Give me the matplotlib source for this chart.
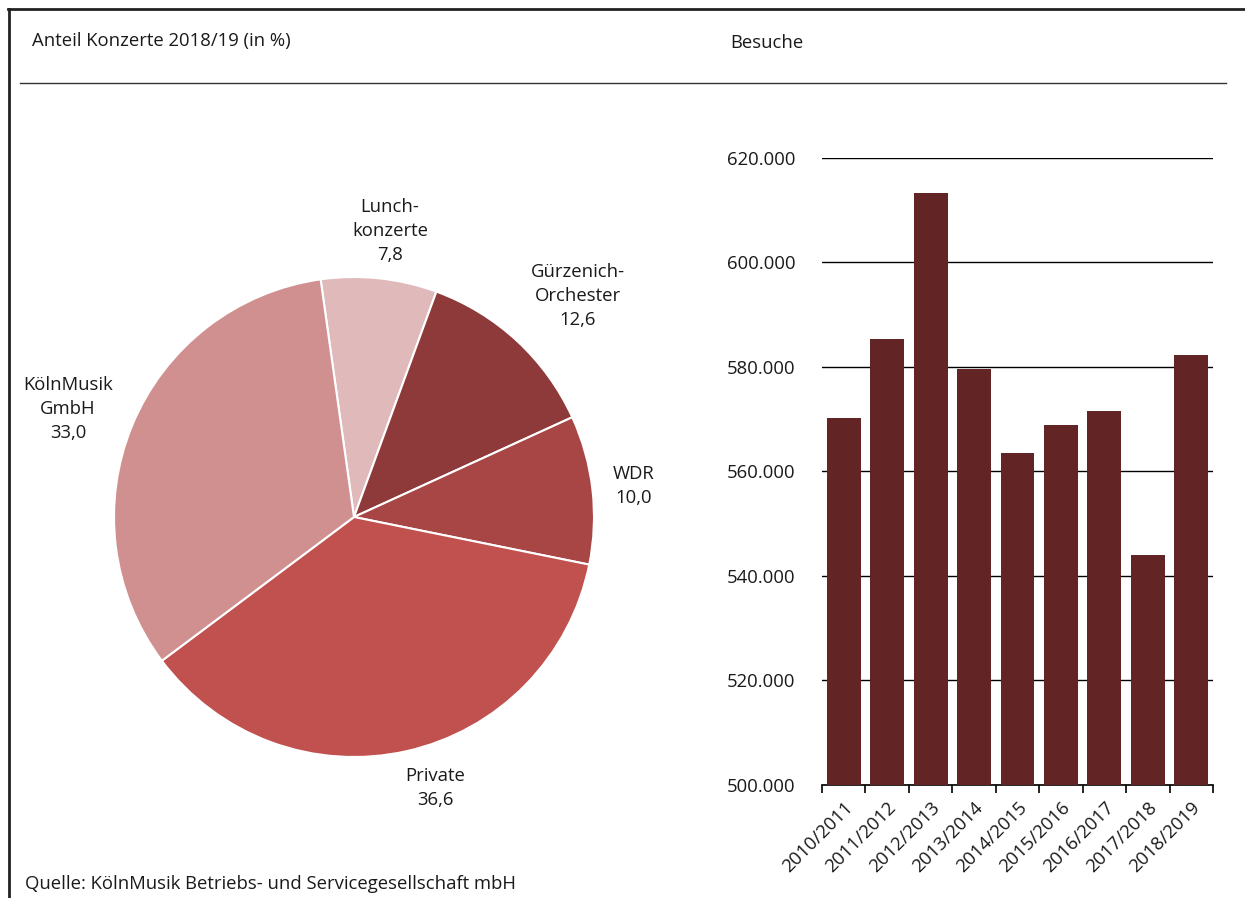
import matplotlib
matplotlib.use("Agg")
import matplotlib.pyplot as plt
from matplotlib.lines import Line2D
import numpy as np

# ---- data ----
pie_labels = ["Lunch-\nkonzerte", "Gürzenich-\nOrchester", "WDR", "Private", "KölnMusik\nGmbH"]
pie_values = [7.8, 12.6, 10.0, 36.6, 33.0]
pie_colors = ["#e0b9ba", "#8e3a3a", "#a84545", "#c0514f", "#d09090"]

seasons = ["2010/2011", "2011/2012", "2012/2013", "2013/2014", "2014/2015",
           "2015/2016", "2016/2017", "2017/2018", "2018/2019"]
visits = [570200, 585400, 613300, 579600, 563500, 568900, 571500, 544000, 582300]
y_ticks = [500000, 520000, 540000, 560000, 580000, 600000, 620000]

W, H = 1245, 898
plt.rcParams['font.family'] = ['Open Sans', 'DejaVu Sans']
FS = 13.3
TXT = "#1a1a1a"

fig = plt.figure(figsize=(W / 100, H / 100), dpi=100)

def fx(px):
    return px / W

def fy(py):
    return 1 - py / H

# frame lines
fig.add_artist(Line2D([fx(8), fx(1245)], [fy(9), fy(9)], color="#222222", lw=2.0))
fig.add_artist(Line2D([fx(9), fx(9)], [fy(9), fy(898)], color="#222222", lw=2.0))
fig.add_artist(Line2D([fx(20), fx(1226)], [fy(83), fy(83)], color="#333333", lw=1.0))

fig.text(fx(32), fy(41), "Anteil Konzerte 2018/19 (in %)", fontsize=FS, color=TXT, va="center", ha="left")
fig.text(fx(730), fy(43), "Besuche", fontsize=FS, color=TXT, va="center", ha="left")
fig.text(fx(25), fy(884), "Quelle: KölnMusik Betriebs- und Servicegesellschaft mbH", fontsize=FS,
         color=TXT, va="center", ha="left")

# ---- pie ----
cx, cy, r = 354, 517, 240
axp = fig.add_axes([fx(cx - r), fy(cy + r), 2 * r / W, 2 * r / H])
axp.pie(pie_values, colors=pie_colors, startangle=98, counterclock=False,
        radius=1, wedgeprops=dict(edgecolor="white", linewidth=1.5))
axp.set_xlim(-1, 1)
axp.set_ylim(-1, 1)
axp.set_aspect("equal")
axp.axis("off")

label_px = [(390, 231), (578, 296), (634, 486), (435, 788), (68, 409)]
for lab, val, (px, py) in zip(pie_labels, pie_values, label_px):
    txt = lab + "\n" + f"{val:.1f}".replace(".", ",")
    axp.text((px - cx) / r, (cy - py) / r, txt, ha="center", va="center",
             fontsize=FS, color=TXT, linespacing=1.45, clip_on=False)

# ---- bars ----
x0, x1, ytop, ybot = 822, 1213, 158, 785
axb = fig.add_axes([fx(x0), fy(ybot), (x1 - x0) / W, (ybot - ytop) / H])
xs = np.arange(len(seasons))
axb.bar(xs, visits, width=0.78, color="#632425", zorder=3)
axb.set_xlim(-0.5, len(seasons) - 0.5)
axb.set_ylim(500000, 620000)
axb.set_yticks(y_ticks)
axb.set_yticklabels([f"{v:,}".replace(",", ".") for v in y_ticks], fontsize=FS, color=TXT)
axb.tick_params(axis="y", length=0, pad=19)
axb.yaxis.grid(True, color="#000000", lw=1.0, zorder=0)
axb.set_axisbelow(True)
for s in ["left", "right", "top"]:
    axb.spines[s].set_visible(False)
axb.spines["bottom"].set_color("#000000")
axb.spines["bottom"].set_linewidth(1.2)
axb.set_xticks(list(xs - 0.5) + [len(seasons) - 0.5])
axb.set_xticklabels([""] * (len(seasons) + 1))
axb.tick_params(axis="x", direction="out", length=6, width=1.2, color="#000000")
axb.set_xticks(xs, minor=True)
axb.set_xticklabels(seasons, minor=True, rotation=45, ha="right", rotation_mode="anchor",
                    fontsize=FS, color=TXT)
axb.tick_params(axis="x", which="minor", length=0, pad=10)

fig.savefig("out.png", dpi=100, facecolor="white")
